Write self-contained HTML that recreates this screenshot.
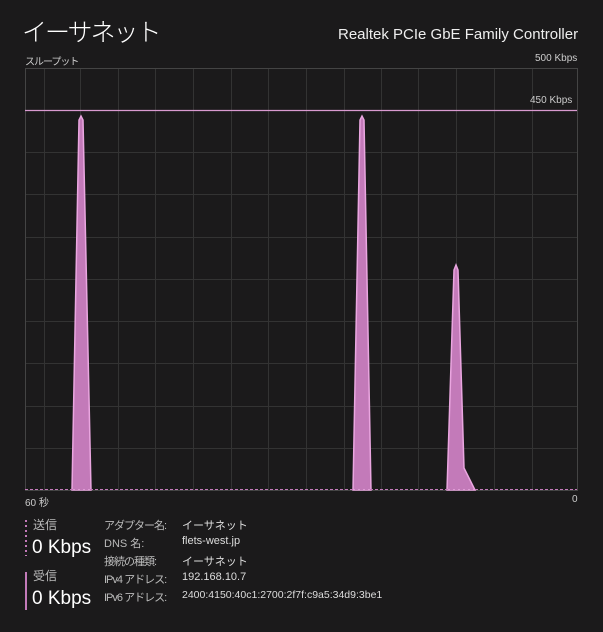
<!DOCTYPE html><html><head><meta charset="utf-8"><style>
body{margin:0;width:603px;height:632px;background:#1b1a1b;overflow:hidden;font-family:"Liberation Sans","Noto Sans CJK JP",sans-serif;color:#fff;position:relative}
div{position:absolute;white-space:nowrap}
.s{font-size:10px;color:#ccc}
.l{font-size:11px;color:#ddd}
</style></head><body>
<div style="left:22px;top:13px;font-size:25px;font-weight:300;letter-spacing:-2px">イーサネット</div>
<div style="left:338px;top:26px;font-size:15px;color:#eee">Realtek PCIe GbE Family Controller</div>
<div class="s" style="left:25px;top:53px;letter-spacing:-1px">スループット</div>
<div class="s" style="left:535px;top:53px">500 Kbps</div>
<svg style="position:absolute;left:0;top:0" width="603" height="632">
<g stroke="#333" stroke-width="1">
<line x1="44.5" y1="68" x2="44.5" y2="490"/><line x1="80.5" y1="68" x2="80.5" y2="490"/><line x1="118.5" y1="68" x2="118.5" y2="490"/><line x1="155.5" y1="68" x2="155.5" y2="490"/><line x1="193.5" y1="68" x2="193.5" y2="490"/><line x1="231.5" y1="68" x2="231.5" y2="490"/><line x1="268.5" y1="68" x2="268.5" y2="490"/><line x1="306.5" y1="68" x2="306.5" y2="490"/><line x1="344.5" y1="68" x2="344.5" y2="490"/><line x1="381.5" y1="68" x2="381.5" y2="490"/><line x1="418.5" y1="68" x2="418.5" y2="490"/><line x1="456.5" y1="68" x2="456.5" y2="490"/><line x1="494.5" y1="68" x2="494.5" y2="490"/><line x1="532.5" y1="68" x2="532.5" y2="490"/>
<line x1="25" y1="152.5" x2="577" y2="152.5"/><line x1="25" y1="194.5" x2="577" y2="194.5"/><line x1="25" y1="237.5" x2="577" y2="237.5"/><line x1="25" y1="279.5" x2="577" y2="279.5"/><line x1="25" y1="321.5" x2="577" y2="321.5"/><line x1="25" y1="363.5" x2="577" y2="363.5"/><line x1="25" y1="406.5" x2="577" y2="406.5"/><line x1="25" y1="448.5" x2="577" y2="448.5"/>
</g>
<rect x="25.5" y="68.5" width="552" height="422" fill="none" stroke="#444"/>
<line x1="25" y1="110.5" x2="577" y2="110.5" stroke="#d99ad0" stroke-width="1.2"/>
<g fill="#c37ab9" stroke="#eaa6e0" stroke-width="1.5">
<polygon points="72,490 79,120 81,116 83,120 91,490"/>
<polygon points="353,490 360,120 362,116 364,120 371,490"/>
<polygon points="447,490 454,270 456,265 458,270 464,468 475,490"/>
</g>
<line x1="25" y1="489.5" x2="577" y2="489.5" stroke="#c37ab9" stroke-dasharray="3,2"/>
<line x1="26" y1="520" x2="26" y2="556" stroke="#c37ab9" stroke-width="2" stroke-dasharray="2,3"/>
<line x1="26" y1="572" x2="26" y2="610" stroke="#c37ab9" stroke-width="2"/>
</svg>
<div class="s" style="left:530px;top:95px">450 Kbps</div>
<div class="s" style="left:25px;top:494px">60 秒</div>
<div class="s" style="left:572px;top:494px">0</div>
<div class="l" style="left:33px;top:516px;color:#bbb;font-size:12px">送信</div>
<div style="left:32px;top:537px;font-size:19px">0 Kbps</div>
<div class="l" style="left:33px;top:567px;color:#bbb;font-size:12px">受信</div>
<div style="left:32px;top:588px;font-size:19px">0 Kbps</div>
<div class="l" style="left:104px;top:517px;color:#bbb;letter-spacing:-1px">アダプター名:</div>
<div class="l" style="left:104px;top:535px;color:#bbb">DNS 名:</div>
<div class="l" style="left:104px;top:553px;color:#bbb;letter-spacing:-1px">接続の種類:</div>
<div class="l" style="left:104px;top:571px;color:#bbb;letter-spacing:-1px">IPv4 アドレス:</div>
<div class="l" style="left:104px;top:589px;color:#bbb;letter-spacing:-1px">IPv6 アドレス:</div>
<div class="l" style="left:182px;top:517px">イーサネット</div>
<div class="l" style="left:182px;top:535px">flets-west.jp</div>
<div class="l" style="left:182px;top:553px">イーサネット</div>
<div class="l" style="left:182px;top:571px">192.168.10.7</div>
<div class="l" style="left:182px;top:589px;font-size:10.5px">2400:4150:40c1:2700:2f7f:c9a5:34d9:3be1</div>
</body></html>
